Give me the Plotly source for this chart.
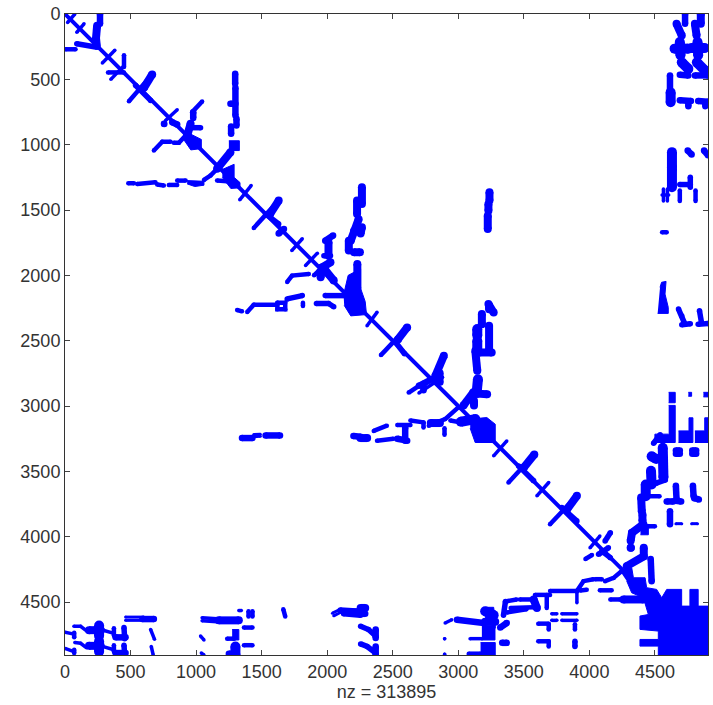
import plotly.graph_objects as go

N = 4905
TICKS = [0, 500, 1000, 1500, 2000, 2500, 3000, 3500, 4000, 4500]
XLABEL = "nz = 313895"
BLUE = "#0000ff"

diagonal = [[(0, 0), (4290, 4290)]]

strokes_3 = [
    [(462, 4615), (600, 4615)], [(462, 4640), (600, 4640)],
    [(4660, 3900), (4705, 3900)], [(4780, 3900), (4825, 3900)],
    [(1440, 3218), (1490, 3215)], [(1440, 3235), (1490, 3232)],
    [(2040, 4585), (2100, 4555)], [(2050, 4605), (2100, 4580)],
]
strokes_4 = [
    [(75, 0), (20, 65)], [(145, 75), (90, 140)],
    [(0, 4730), (68, 4745)], [(0, 4855), (68, 4880)],
    [(68, 4685), (119, 4685), (165, 4720)], [(75, 4810), (119, 4815), (165, 4850)],
    [(272, 4710), (373, 4740)], [(272, 4835), (373, 4865)],
    [(653, 4710), (683, 4785)], [(658, 4840), (673, 4905)],
    [(1034, 4760), (1060, 4790)], [(1040, 4890), (1060, 4905)],
    [(1046, 4620), (1160, 4628)], [(1046, 4642), (1160, 4650)],
    [(3713, 4590), (3752, 4590)], [(3790, 4590), (3905, 4590)],
    [(3713, 4640), (3752, 4640)], [(3790, 4640), (3905, 4640)],
    [(3905, 4425), (3905, 4505)], [(3090, 4780), (3180, 4780)],
    [(4565, 1340), (4565, 1430)], [(4595, 1340), (4595, 1430)],
    [(4555, 1385), (4605, 1385)], [(1326, 4565), (1345, 4565)],
    [(2895, 4780), (2897, 4780)], [(2895, 4900), (2897, 4900)],
    [(2900, 4660), (2950, 4635)],
    [(380, 278), (285, 375)], [(1420, 1313), (1333, 1422)], [(1730, 1810), (1810, 1720)],
    [(2380, 2283), (2304, 2385)], [(3370, 3267), (3270, 3381)], [(3690, 3585), (3600, 3687)],
    [(4080, 3995), (4005, 4085)], [(1925, 1830), (1835, 1925)], [(450, 395), (350, 500)],
    [(856, 733), (767, 815)],
    [(2880, 2780), (2700, 2900)],
]
strokes_5 = [
    [(5, 270), (80, 270)], [(450, 315), (450, 405)], [(328, 447), (450, 447)],
    [(1046, 669), (970, 751)], [(678, 1045), (742, 978), (805, 978)],
    [(830, 985), (869, 985), (920, 930)], [(483, 1295), (526, 1295)],
    [(551, 1300), (690, 1287)], [(703, 1305), (754, 1312)], [(792, 1308), (856, 1308)],
    [(856, 1275), (920, 1275)], [(1060, 1270), (1110, 1236), (1160, 1185)],
    [(1160, 1275), (1237, 1280)], [(1695, 2050), (1732, 2002), (1860, 1990)],
    [(1900, 2000), (1935, 1965)], [(1313, 2265), (1350, 2275)], [(1390, 2280), (1440, 2225)],
    [(1440, 2225), (1620, 2225)], [(1620, 2210), (1680, 2210), (1680, 2260), (1620, 2260), (1620, 2210)],
    [(1815, 2210), (1815, 2235)],
    [(665, 462), (488, 667)], [(1630, 1428), (1440, 1637)], [(2610, 2398), (2410, 2610)],
    [(3580, 3370), (3383, 3585)], [(3905, 3687), (3700, 3905)],
    [(2700, 2845), (2622, 2897)], [(2895, 3170), (2895, 3220)],
    [(2355, 3190), (2455, 3150)], [(2380, 3265), (2505, 3250)], [(2535, 3145), (2635, 3145)],
    [(2635, 3110), (2735, 3125)], [(2735, 3125), (2735, 3165)],
    [(3000, 3010), (2900, 3100), (2775, 3150)], [(2940, 3110), (3015, 3125)],
    [(4430, 3690), (4535, 3690)], [(4450, 3920), (4500, 3920)],
    [(3905, 4416), (3955, 4340), (4030, 4325)], [(4045, 4325), (4095, 4325)],
    [(4120, 4340), (4185, 4315), (4247, 4263)], [(4080, 4410), (4170, 4410)],
    [(4160, 4480), (4235, 4480)], [(3930, 4412), (3980, 4405)],
    [(3700, 4415), (3905, 4415)], [(3585, 4445), (3700, 4445)], [(3675, 4445), (3675, 4545)],
    [(3470, 4480), (3575, 4480)], [(3360, 4495), (3445, 4480)],
    [(3370, 4580), (3520, 4555)], [(3400, 4545), (3575, 4540)],
    [(3690, 4670), (3690, 4710)], [(3610, 4665), (3690, 4665)],
    [(3610, 4800), (3690, 4800)], [(3690, 4800), (3690, 4840)], [(3890, 4670), (3890, 4710)],
    [(4020, 4140), (3970, 4170)], [(1400, 4570), (1400, 4610)], [(1430, 4570), (1430, 4610)],
    [(1665, 4555), (1680, 4610)], [(1365, 4695), (1430, 4695)], [(1365, 4830), (1430, 4830)],
    [(1237, 4780), (1290, 4780)], [(70, 4735), (70, 4770)], [(70, 4865), (70, 4890)],
    [(373, 4700), (373, 4755)], [(373, 4830), (373, 4880)], [(3080, 4895), (3170, 4895)],
    [(4690, 1350), (4690, 1430)], [(4810, 1350), (4810, 1430)], [(4555, 1670), (4590, 1670)],
]
strokes_6 = [
    [(90, 228), (245, 255)],
    [(958, 870), (1034, 870)], [(1695, 2180), (1810, 2155)],
    [(1918, 2215), (2010, 2215), (2050, 2240)], [(1985, 2155), (2125, 2155)],
    [(1975, 1850), (2025, 1850)],
    [(4160, 3970), (4120, 4032)],
    [(4145, 4085), (4070, 4135)], [(3360, 4495), (3345, 4600)], [(4690, 1305), (4770, 1305)],
    [(4770, 1250), (4770, 1325)], [(4705, 2378), (4770, 2370)], [(4830, 2375), (4905, 2368)],
    [(4510, 3590), (4580, 3565)], [(2100, 4560), (2255, 4570)], [(2125, 4590), (2255, 4600)],
    [(450, 4695), (455, 4780)], [(450, 4830), (455, 4905)], [(3890, 4800), (3890, 4840)],
    [(2255, 4685), (2315, 4710), (2370, 4760)], [(2255, 4820), (2305, 4840), (2370, 4890)],
    [(4840, 2270), (4855, 2360)], [(4680, 2258), (4705, 2310), (4730, 2375)],
    [(538, 546), (653, 661)], [(1530, 1530), (1630, 1607)], [(2520, 2510), (2590, 2600)],
    [(3460, 3458), (3575, 3572)], [(3790, 3777), (3905, 3880)], [(4095, 4110), (4160, 4160)],
    [(4490, 3285), (4540, 3220)],
]
strokes_7 = [
    [(267, 0), (267, 75)], [(4730, 0), (4730, 75)],
    [(755, 840), (757, 842)], [(818, 828), (856, 845)],
    [(978, 751), (978, 795)], [(1298, 457), (1298, 534)], [(1300, 565), (1300, 776)],
    [(1262, 687), (1300, 687)], [(1308, 802), (1308, 853)], [(1267, 860), (1267, 917)],
    [(1670, 1645), (1630, 1680)],
    [(2045, 1695), (1985, 1735)], [(1350, 3245), (1430, 3245)],
    [(1530, 3225), (1640, 3225)], [(2200, 3230), (2255, 3235)],
    [(2825, 2780), (2700, 2845)], [(2735, 2830), (2735, 2880)], [(2863, 2745), (2863, 2820)],
    [(2990, 4635), (3195, 4660)], [(2370, 4710), (2370, 4775)], [(2370, 4840), (2370, 4905)],
    [(4690, 465), (4755, 470)], [(4805, 470), (4905, 470)], [(4615, 470), (4615, 585)],
    [(4690, 660), (4775, 665)], [(4755, 670), (4755, 705)], [(4830, 665), (4905, 672)],
    [(4885, 680), (4885, 705)], [(4750, 1045), (4780, 1075)], [(4875, 1045), (4905, 1080)],
    [(3370, 4660), (3320, 4695)], [(3335, 4812), (3370, 4812)],
    [(2595, 3165), (2595, 3265)], [(2535, 3250), (2610, 3265)],
    [(4468, 4170), (4475, 4340)], [(4615, 3805), (4615, 3905)],
    [(4660, 3610), (4665, 3715)], [(4660, 3725), (4700, 3730)], [(4790, 3610), (4795, 3690)],
    [(4800, 3705), (4835, 3715)], [(4590, 3730), (4640, 3730)], [(4660, 3340), (4690, 3340)],
    [(4785, 3340), (4815, 3340)], [(4660, 3365), (4690, 3365)], [(4785, 3365), (4815, 3365)],
    [(1250, 4895), (1300, 4895)], [(386, 4770), (462, 4770)], [(386, 4890), (462, 4890)],
    [(590, 4630), (678, 4630)], [(2250, 4590), (2290, 4590)],
]
strokes_8 = [
    [(958, 840), (932, 930)], [(245, 90), (235, 200)], [(1262, 1057), (1160, 1185)],
    [(665, 462), (602, 565)], [(1630, 1428), (1565, 1530)], [(2010, 1747), (2010, 1850)],
    [(2025, 1900), (1960, 1940), (1950, 2015)], [(2228, 1428), (2228, 1530)],
    [(2240, 1570), (2205, 1660), (2180, 1735)], [(2165, 1735), (2165, 1810)],
    [(2205, 1823), (2250, 1823)], [(2265, 1325), (2265, 1453)], [(2265, 1632), (2255, 1680)],
    [(2230, 1913), (2230, 2100)], [(3238, 1364), (3238, 1428)], [(3230, 1453), (3230, 1505)],
    [(3225, 1543), (3225, 1645)], [(4850, 0), (4850, 75)], [(4665, 75), (4705, 165)],
    [(4805, 75), (4818, 165)], [(3180, 2296), (3180, 2375)], [(3235, 2385), (3235, 2580)],
    [(3130, 2577), (3145, 2730)], [(3160, 2590), (3255, 2590)], [(2610, 2398), (2540, 2490)],
    [(3580, 3370), (3500, 3470)], [(3905, 3687), (3830, 3790)], [(2890, 2615), (2825, 2770)],
    [(3145, 2905), (3220, 2910)], [(3115, 2895), (3040, 2995)], [(3120, 2960), (3120, 2995)],
    [(2790, 3130), (2860, 3130)], [(2253, 3245), (2305, 3245)], [(1173, 4640), (1326, 4640)],
    [(4260, 4480), (4412, 4480)], [(4415, 4085), (4415, 4150), (4285, 4225)], [(4315, 4085), (4317, 4085)],
    [(4315, 4030), (4325, 3970), (4412, 3905)], [(4405, 3830), (4405, 3880)],
    [(4395, 3700), (4400, 3805)], [(3575, 4480), (3600, 4545)],
    [(2255, 4545), (2290, 4545)], [(3205, 4650), (3282, 4650)],
    [(234, 4715), (272, 4715)], [(183, 4715), (272, 4715)], [(183, 4835), (272, 4835)],
    [(3230, 2220), (3270, 2285)], [(3235, 2230), (3235, 2260)], [(1985, 1960), (2050, 2040)],
]
strokes_10 = [
    [(4690, 215), (4695, 315)], [(4825, 215), (4830, 315)], [(4650, 265), (4755, 265)],
    [(4780, 260), (4880, 260)], [(4705, 370), (4755, 420)], [(4820, 370), (4880, 430)],
    [(4620, 600), (4620, 675)], [(4630, 1057), (4630, 1172)], [(4630, 1185), (4630, 1325)],
    [(3150, 2795), (3140, 2900)], [(3145, 2410), (3145, 2460)], [(3145, 2500), (3145, 2580)],
    [(4430, 3600), (4430, 3690)], [(4470, 3495), (4475, 3600)], [(4475, 3385), (4510, 3405)],
    [(4560, 3320), (4565, 3545)],
    [(3205, 4570), (3270, 4600)], [(1300, 4840), (1300, 4905)], [(260, 4680), (260, 4760)],
    [(260, 4800), (260, 4880)], [(3130, 3100), (3020, 3120)],
]

block_polygons = [
    [(235, 150), (260, 150), (270, 250), (235, 260), (205, 240)],
    [(905, 920), (960, 920), (1040, 960), (1040, 1030), (960, 1040), (905, 960)],
    [(1250, 970), (1330, 970), (1330, 1045), (1250, 1045)],
    [(1200, 1190), (1290, 1150), (1290, 1250), (1335, 1290), (1335, 1330), (1265, 1335), (1200, 1250)],
    [(932, 1275), (1060, 1280), (1060, 1310), (990, 1320), (932, 1300)],
    [(2125, 2150), (2160, 2000), (2255, 1950), (2255, 2100), (2290, 2200), (2300, 2300), (2180, 2310), (2130, 2230)],
    [(4539, 2092), (4551, 2053), (4585, 2046), (4577, 2143), (4602, 2245), (4602, 2291), (4521, 2291)],
    [(3091, 3100), (3218, 3088), (3282, 3139), (3282, 3279), (3129, 3279), (3091, 3170)],
    [(4605, 2995), (4655, 2995), (4655, 3279), (4500, 3279), (4500, 3215), (4605, 3215)],
    [(4680, 3190), (4760, 3190), (4760, 3090), (4790, 3090), (4790, 3279), (4680, 3279)],
    [(4805, 3190), (4880, 3190), (4880, 3090), (4905, 3090), (4905, 3279), (4805, 3279)],
    [(4605, 2895), (4655, 2895), (4655, 2975), (4605, 2975)],
    [(4755, 2895), (4780, 2895), (4780, 2925), (4755, 2925)],
    [(4870, 2895), (4905, 2895), (4905, 2930), (4870, 2930)],
    [(4390, 3905), (4450, 3905), (4450, 3985), (4390, 3985)],
    [(4234, 4263), (4323, 4237), (4336, 4314), (4425, 4314), (4437, 4390), (4513, 4403), (4552, 4467),
     (4590, 4403), (4704, 4403), (4704, 4531), (4767, 4531), (4767, 4403), (4830, 4403), (4830, 4531),
     (4905, 4531), (4905, 4905), (4526, 4905), (4526, 4837), (4386, 4837), (4386, 4786), (4526, 4786),
     (4526, 4722), (4386, 4709), (4386, 4607), (4450, 4595), (4437, 4544), (4412, 4467), (4323, 4429), (4285, 4339)],
    [(3205, 4540), (3270, 4540), (3282, 4640), (3205, 4640)],
    [(3180, 4680), (3280, 4680), (3280, 4790), (3180, 4790)],
    [(3170, 4810), (3282, 4810), (3282, 4905), (3170, 4905)],
    [(3255, 4640), (3282, 4640), (3282, 4700), (3255, 4700)],
    [(1275, 4710), (1326, 4710), (1326, 4790), (1275, 4790)],
    [(2100, 4555), (2255, 4552), (2255, 4600), (2125, 4600)],
]


def flatten(polylines):
    xs, ys = [], []
    for line in polylines:
        for x, y in line:
            xs.append(x)
            ys.append(y)
        xs.append(None)
        ys.append(None)
    return xs, ys


fig = go.Figure()
for polygon in block_polygons:
    px_, py_ = zip(*polygon)
    fig.add_trace(go.Scatter(x=list(px_), y=list(py_), mode="lines", fill="toself",
                             fillcolor=BLUE, line=dict(color=BLUE, width=1), hoverinfo="skip"))
for polylines, width in [(diagonal, 4), (strokes_3, 3), (strokes_4, 3.5), (strokes_5, 4.5),
                         (strokes_6, 5.5), (strokes_7, 6.5), (strokes_8, 8), (strokes_10, 10)]:
    xs, ys = flatten(polylines)
    fig.add_trace(go.Scatter(x=xs, y=ys, mode="lines+markers",
                             line=dict(color=BLUE, width=width),
                             marker=dict(color=BLUE, size=width, line=dict(width=0)),
                             hoverinfo="skip", cliponaxis=True))

axis_style = dict(tickmode="array", tickvals=TICKS, ticktext=[str(t) for t in TICKS],
                  ticks="inside", ticklen=5, tickwidth=1, tickcolor="#444444",
                  showline=True, linecolor="#333333", linewidth=1, mirror="ticks",
                  showgrid=False, zeroline=False,
                  tickfont=dict(family="Liberation Sans", size=18, color="#333333"))
fig.update_layout(
    width=713, height=705, showlegend=False, paper_bgcolor="white", plot_bgcolor="white",
    margin=dict(l=64.5, r=4.5, t=13.5, b=50),
    xaxis=dict(range=[0, N], title=dict(text=XLABEL, standoff=3,
               font=dict(family="Liberation Sans", size=18, color="#333333")), **axis_style),
    yaxis=dict(range=[N, 0], **axis_style),
)
fig.write_html("out.html", config={"displayModeBar": False},
               post_script="document.body.style.margin='0';")
